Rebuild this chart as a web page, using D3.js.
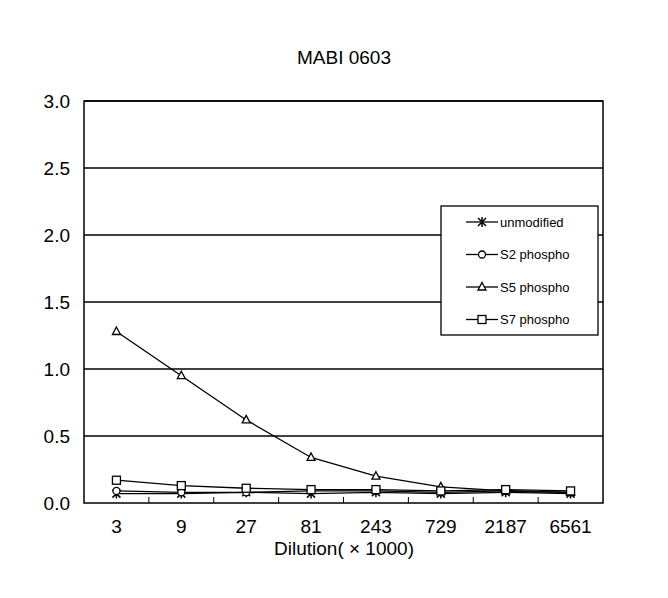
<!DOCTYPE html>
<html><head><meta charset="utf-8">
<script src="https://cdn.jsdelivr.net/npm/d3@7"></script>
<style>body{margin:0;background:#fff;font-family:"Liberation Sans",Arial,sans-serif}</style>
</head><body><div id="chart"></div>
<script>
var dilutions = ["3", "9", "27", "81", "243", "729", "2187", "6561"];
var unmodified = [0.07, 0.07, 0.08, 0.07, 0.08, 0.07, 0.08, 0.07];
var s2phospho = [0.09, 0.08, 0.08, 0.09, 0.09, 0.08, 0.09, 0.08];
var s5phospho = [1.28, 0.95, 0.62, 0.34, 0.20, 0.12, 0.09, 0.08];
var s7phospho = [0.17, 0.13, 0.11, 0.10, 0.10, 0.09, 0.10, 0.09];
var yTicks = [0, 0.5, 1.0, 1.5, 2.0, 2.5, 3.0];

var series = [
    {name: "unmodified", values: unmodified, sym: "x"},
    {name: "S2 phospho", values: s2phospho, sym: "o"},
    {name: "S5 phospho", values: s5phospho, sym: "t"},
    {name: "S7 phospho", values: s7phospho, sym: "s"}
];

var svg = d3.select("#chart").append("svg").attr("width", 668).attr("height", 598);
var L = 84, R = 603, T = 101, B = 503;

var x = d3.scaleBand().domain(dilutions).range([L, R]);
var y = d3.scaleLinear().domain([0, 3]).range([B, T]);

// gridlines
svg.selectAll(".grid").data(yTicks.slice(1)).enter().append("line")
    .attr("x1", L).attr("x2", R).attr("y1", y).attr("y2", y)
    .attr("stroke", "#000").attr("stroke-width", 1.3);
svg.append("rect").attr("x", L).attr("y", T).attr("width", R - L).attr("height", B - T)
    .attr("fill", "none").attr("stroke", "#000").attr("stroke-width", 1.5);

svg.selectAll(".yl").data(yTicks).enter().append("text")
    .attr("x", L - 14).attr("y", function (d) { return y(d) + 7; })
    .attr("text-anchor", "end").attr("font-size", 19).text(function (d) { return d.toFixed(1); });

// x ticks between categories
svg.selectAll(".xt").data(dilutions.slice(1)).enter().append("line")
    .attr("x1", function (d) { return x(d); }).attr("x2", function (d) { return x(d); })
    .attr("y1", B).attr("y2", B - 6).attr("stroke", "#000");
svg.selectAll(".xl").data(dilutions).enter().append("text")
    .attr("x", function (d) { return x(d) + x.bandwidth() / 2; }).attr("y", B + 30)
    .attr("text-anchor", "middle").attr("font-size", 19).text(function (d) { return d; });

svg.append("text").attr("x", 344).attr("y", 64).attr("text-anchor", "middle")
    .attr("font-size", 19).text("MABI 0603");
svg.append("text").attr("x", 344).attr("y", 555).attr("text-anchor", "middle")
    .attr("font-size", 19).text("Dilution( × 1000)");

function symbol(g, sym, cx, cy) {
    if (sym === "x") {
        g.append("path").attr("d", "M" + (cx - 4) + "," + (cy - 4) + "L" + (cx + 4) + "," + (cy + 4) +
            "M" + (cx - 4) + "," + (cy + 4) + "L" + (cx + 4) + "," + (cy - 4) +
            "M" + cx + "," + (cy - 5) + "L" + cx + "," + (cy + 5))
            .attr("stroke", "#000").attr("stroke-width", 1.5);
    } else if (sym === "o") {
        g.append("circle").attr("cx", cx).attr("cy", cy).attr("r", 3.5)
            .attr("fill", "#fff").attr("stroke", "#000").attr("stroke-width", 1.3);
    } else if (sym === "t") {
        g.append("path").attr("d", "M" + cx + "," + (cy - 4.5) + "L" + (cx + 4) + "," + (cy + 3) + "L" + (cx - 4) + "," + (cy + 3) + "Z")
            .attr("fill", "#fff").attr("stroke", "#000").attr("stroke-width", 1.3);
    } else {
        g.append("rect").attr("x", cx - 4).attr("y", cy - 4).attr("width", 8).attr("height", 8)
            .attr("fill", "#fff").attr("stroke", "#000").attr("stroke-width", 1.3);
    }
}

var line = d3.line()
    .x(function (d, i) { return x(dilutions[i]) + x.bandwidth() / 2; })
    .y(function (d) { return y(d); });

series.forEach(function (s) {
    var g = svg.append("g");
    g.append("path").attr("d", line(s.values)).attr("fill", "none")
        .attr("stroke", "#000").attr("stroke-width", 1.3);
    s.values.forEach(function (v, i) {
        symbol(g, s.sym, x(dilutions[i]) + x.bandwidth() / 2, y(v));
    });
});

// legend
svg.append("rect").attr("x", 441).attr("y", 206).attr("width", 157).attr("height", 129)
    .attr("fill", "#fff").attr("stroke", "#000").attr("stroke-width", 1.3);
series.forEach(function (s, i) {
    var ly = 222 + i * 32.5;
    var lg = svg.append("g");
    lg.append("line").attr("x1", 466).attr("x2", 498).attr("y1", ly).attr("y2", ly)
        .attr("stroke", "#000").attr("stroke-width", 1.3);
    symbol(lg, s.sym, 482, ly);
    lg.append("text").attr("x", 500).attr("y", ly + 4.5).attr("font-size", 13).text(s.name);
});
</script>
</body></html>
